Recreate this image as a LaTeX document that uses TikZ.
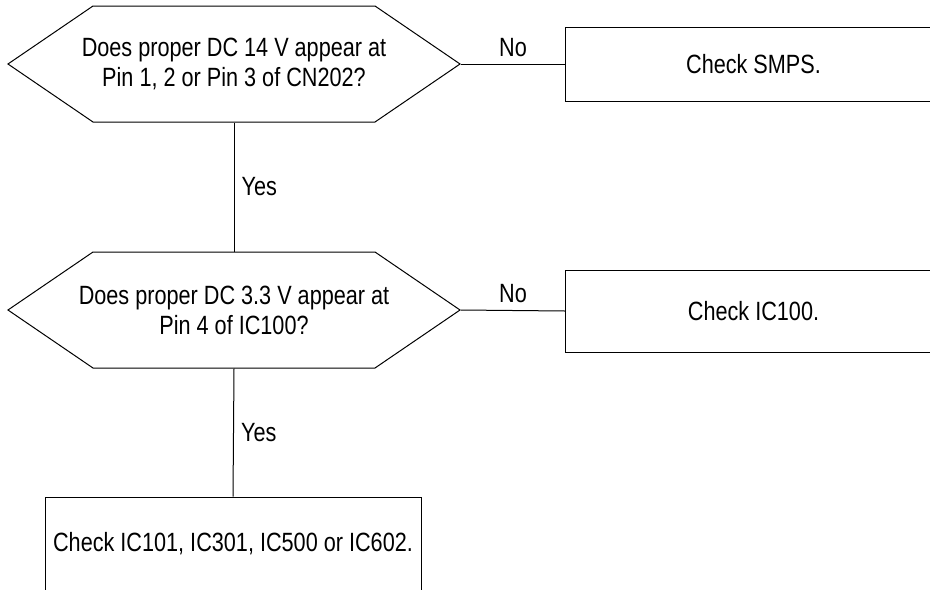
\documentclass[tikz,border=0pt]{standalone}
\usepackage{fontspec}
\setmainfont{Liberation Sans}[FakeStretch=0.82]
\usepackage{tikz}
\usetikzlibrary{shapes.symbols}

\newcommand{\qline}[1]{\makebox[228pt]{#1}}

\tikzset{
  question/.style={draw, line width=0.75pt, signal, signal to=east and west, signal pointer angle=68.6,
    minimum height=87pt, inner xsep=-8.25pt, inner ysep=0pt, align=center,
    font=\fontsize{19.8}{22.5}\selectfont},
  action/.style={draw, line width=0.75pt, rectangle, minimum width=282pt, inner sep=0pt, align=center,
    font=\fontsize{19.8}{22.5}\selectfont},
  link/.style={line width=0.75pt},
  answer/.style={font=\fontsize{19.8}{22.5}\selectfont}
}

\begin{document}
\begin{tikzpicture}[x=0.75pt,y=0.75pt,yscale=-1,xscale=1]
\useasboundingbox (0,0) rectangle (930,589);

%Shape: Hexagon [id:q14]
\node[question] (q14) at (234,64) {\qline{Does proper DC 14 V appear at}\\\qline{Pin 1, 2 or Pin 3 of CN202?}};
%Shape: Rectangle [id:smps]
\node[action, minimum height=55.5pt] (smps) at (753.5,64) {Check SMPS.};
%Shape: Hexagon [id:q33]
\node[question] (q33) at (234,310) {\qline{Does proper DC 3.3 V appear at}\\\qline{Pin 4 of IC100?}};
%Shape: Rectangle [id:ic100]
\node[action, minimum height=61.5pt] (ic100) at (753.5,311) {Check IC100.};
%Shape: Rectangle [id:icall]
\node[action, minimum height=70.5pt] (icall) at (233,544) {Check IC101, IC301, IC500 or IC602.};

%Straight Lines
\draw[link] (q14.east) -- (smps.west) node[answer, midway, above, yshift=2pt] {No};
\draw[link] (q14.south) -- (q33.north) node[answer, midway, right, xshift=2pt] {Yes};
\draw[link] (q33.east) -- (ic100.west) node[answer, midway, above, yshift=2pt] {No};
\draw[link] (q33.south) -- (icall.north) node[answer, midway, right, xshift=2pt] {Yes};

\end{tikzpicture}
\end{document}
